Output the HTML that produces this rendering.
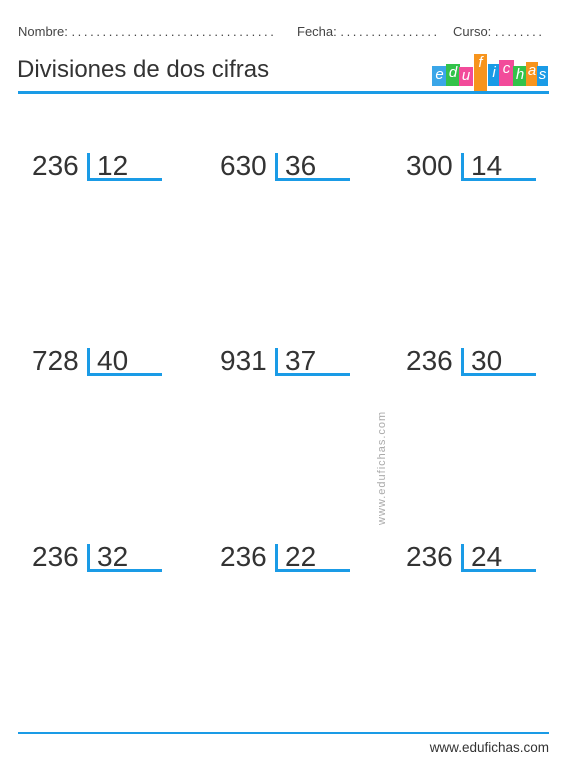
<!DOCTYPE html>
<html><head><meta charset="utf-8"><style>
body{margin:0;width:570px;height:770px;background:#fff;position:relative;font-family:"Liberation Sans",sans-serif;color:#333;overflow:hidden}
.a{position:absolute}
.hdr{top:24px;font-size:13px;color:#444;white-space:nowrap}
.hdr b{font-weight:normal;letter-spacing:2.6px}
.title{top:56px;left:17px;font-size:24px;color:#333}
.rule{left:18px;width:531px;height:3px;background:#1a9be6}
.div{position:absolute;width:150px;height:40px}
.dd{position:absolute;left:0;top:0;font-size:28px;color:#333;line-height:30px}
.ds{position:absolute;left:65px;top:0;font-size:28px;color:#333;line-height:30px}
.vl{position:absolute;left:55px;top:2px;width:3px;height:28px;background:#1a9be6}
.hl{position:absolute;left:55px;top:27px;width:75px;height:3px;background:#1a9be6}
.lg span{position:absolute;display:block;color:#fff;font-size:15px;font-style:italic;text-align:center}
</style></head><body>
<div class="a hdr" style="left:18px">Nombre: <b>.................................</b></div>
<div class="a hdr" style="left:297px">Fecha: <b>................</b></div>
<div class="a hdr" style="left:453px">Curso: <b>........</b></div>
<div class="a title">Divisiones de dos cifras</div>
<div class="a lg" style="left:432px;top:54px;width:116px;height:40px">
<span style="left:0;top:12px;width:15px;height:20px;background:#3aa6e8">e</span>
<span style="left:14px;top:10px;width:14px;height:22px;background:#33c24a">d</span>
<span style="left:27px;top:13px;width:14px;height:19px;background:#f24b9a">u</span>
<span style="left:42px;top:0;width:13px;height:40px;background:#f7941d">f</span>
<span style="left:56px;top:10px;width:12px;height:22px;background:#1a9be6">i</span>
<span style="left:67px;top:6px;width:15px;height:26px;background:#f24b9a">c</span>
<span style="left:81px;top:12px;width:14px;height:20px;background:#33c24a">h</span>
<span style="left:94px;top:8px;width:12px;height:24px;background:#f7941d">a</span>
<span style="left:105px;top:12px;width:11px;height:20px;background:#1a9be6">s</span>
</div>
<div class="a rule" style="top:91px"></div>
<div id="grid"></div>
<div class="a" style="left:376px;top:525px;transform:rotate(-90deg);transform-origin:0 0;font-size:11px;color:#aaa;letter-spacing:1px">www.edufichas.com</div>
<div class="a rule" style="top:732px;height:2px"></div>
<div class="a" style="right:21px;top:740px;font-size:13.5px;color:#333">www.edufichas.com</div>
<script>
const dividends=["236","630","300","728","931","236","236","236","236"];
const divisors=["12","36","14","40","37","30","32","22","24"];
const colX=[32,220,406], rowY=[151,346,542];
const g=document.getElementById('grid');
dividends.forEach((d,i)=>{
 const el=document.createElement('div');el.className='div';
 
 
 el.style.left=colX[i%3]+'px';el.style.top=rowY[Math.floor(i/3)]+'px';
 el.innerHTML='<div class="dd">'+d+'</div><div class="vl"></div><div class="hl"></div><div class="ds">'+divisors[i]+'</div>';
 g.appendChild(el);
});
</script>
</body></html>
